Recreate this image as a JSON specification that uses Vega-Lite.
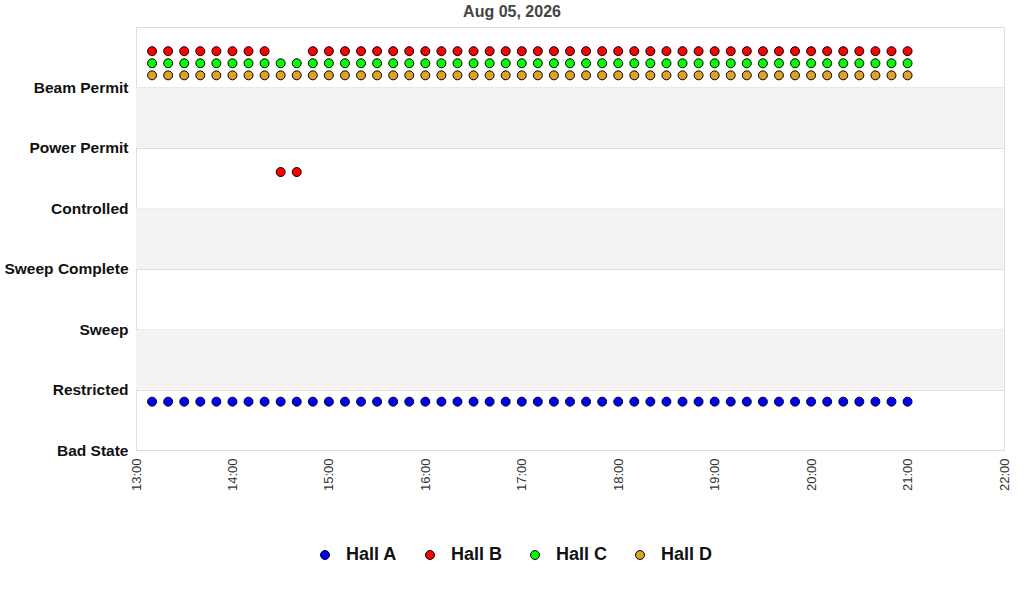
{
  "$schema": "https://vega.github.io/schema/vega-lite/v6.json",
  "width": 868,
  "height": 423,
  "autosize": {"type": "none"},
  "padding": {"left": 136, "top": 27, "right": 20, "bottom": 150},
  "background": "white",
  "config": {
    "font": "Liberation Sans",
    "view": {"stroke": "#dddddd", "strokeWidth": 1}
  },
  "title": {
    "text": "Aug 05, 2026",
    "anchor": "middle",
    "frame": "group",
    "fontSize": 16,
    "fontWeight": "bold",
    "color": "#444444",
    "font": "Liberation Sans",
    "dx": -58,
    "offset": 7
  },
  "datasets": {
    "bands": [
      {"lo": 1, "hi": 2},
      {"lo": 3, "hi": 4},
      {"lo": 5, "hi": 6}
    ],
    "states": [
      {"time": "2026-08-05T13:10:00Z", "hall": "Hall A", "level": 0.8},
      {"time": "2026-08-05T13:20:00Z", "hall": "Hall A", "level": 0.8},
      {"time": "2026-08-05T13:30:00Z", "hall": "Hall A", "level": 0.8},
      {"time": "2026-08-05T13:40:00Z", "hall": "Hall A", "level": 0.8},
      {"time": "2026-08-05T13:50:00Z", "hall": "Hall A", "level": 0.8},
      {"time": "2026-08-05T14:00:00Z", "hall": "Hall A", "level": 0.8},
      {"time": "2026-08-05T14:10:00Z", "hall": "Hall A", "level": 0.8},
      {"time": "2026-08-05T14:20:00Z", "hall": "Hall A", "level": 0.8},
      {"time": "2026-08-05T14:30:00Z", "hall": "Hall A", "level": 0.8},
      {"time": "2026-08-05T14:40:00Z", "hall": "Hall A", "level": 0.8},
      {"time": "2026-08-05T14:50:00Z", "hall": "Hall A", "level": 0.8},
      {"time": "2026-08-05T15:00:00Z", "hall": "Hall A", "level": 0.8},
      {"time": "2026-08-05T15:10:00Z", "hall": "Hall A", "level": 0.8},
      {"time": "2026-08-05T15:20:00Z", "hall": "Hall A", "level": 0.8},
      {"time": "2026-08-05T15:30:00Z", "hall": "Hall A", "level": 0.8},
      {"time": "2026-08-05T15:40:00Z", "hall": "Hall A", "level": 0.8},
      {"time": "2026-08-05T15:50:00Z", "hall": "Hall A", "level": 0.8},
      {"time": "2026-08-05T16:00:00Z", "hall": "Hall A", "level": 0.8},
      {"time": "2026-08-05T16:10:00Z", "hall": "Hall A", "level": 0.8},
      {"time": "2026-08-05T16:20:00Z", "hall": "Hall A", "level": 0.8},
      {"time": "2026-08-05T16:30:00Z", "hall": "Hall A", "level": 0.8},
      {"time": "2026-08-05T16:40:00Z", "hall": "Hall A", "level": 0.8},
      {"time": "2026-08-05T16:50:00Z", "hall": "Hall A", "level": 0.8},
      {"time": "2026-08-05T17:00:00Z", "hall": "Hall A", "level": 0.8},
      {"time": "2026-08-05T17:10:00Z", "hall": "Hall A", "level": 0.8},
      {"time": "2026-08-05T17:20:00Z", "hall": "Hall A", "level": 0.8},
      {"time": "2026-08-05T17:30:00Z", "hall": "Hall A", "level": 0.8},
      {"time": "2026-08-05T17:40:00Z", "hall": "Hall A", "level": 0.8},
      {"time": "2026-08-05T17:50:00Z", "hall": "Hall A", "level": 0.8},
      {"time": "2026-08-05T18:00:00Z", "hall": "Hall A", "level": 0.8},
      {"time": "2026-08-05T18:10:00Z", "hall": "Hall A", "level": 0.8},
      {"time": "2026-08-05T18:20:00Z", "hall": "Hall A", "level": 0.8},
      {"time": "2026-08-05T18:30:00Z", "hall": "Hall A", "level": 0.8},
      {"time": "2026-08-05T18:40:00Z", "hall": "Hall A", "level": 0.8},
      {"time": "2026-08-05T18:50:00Z", "hall": "Hall A", "level": 0.8},
      {"time": "2026-08-05T19:00:00Z", "hall": "Hall A", "level": 0.8},
      {"time": "2026-08-05T19:10:00Z", "hall": "Hall A", "level": 0.8},
      {"time": "2026-08-05T19:20:00Z", "hall": "Hall A", "level": 0.8},
      {"time": "2026-08-05T19:30:00Z", "hall": "Hall A", "level": 0.8},
      {"time": "2026-08-05T19:40:00Z", "hall": "Hall A", "level": 0.8},
      {"time": "2026-08-05T19:50:00Z", "hall": "Hall A", "level": 0.8},
      {"time": "2026-08-05T20:00:00Z", "hall": "Hall A", "level": 0.8},
      {"time": "2026-08-05T20:10:00Z", "hall": "Hall A", "level": 0.8},
      {"time": "2026-08-05T20:20:00Z", "hall": "Hall A", "level": 0.8},
      {"time": "2026-08-05T20:30:00Z", "hall": "Hall A", "level": 0.8},
      {"time": "2026-08-05T20:40:00Z", "hall": "Hall A", "level": 0.8},
      {"time": "2026-08-05T20:50:00Z", "hall": "Hall A", "level": 0.8},
      {"time": "2026-08-05T21:00:00Z", "hall": "Hall A", "level": 0.8},
      {"time": "2026-08-05T13:10:00Z", "hall": "Hall B", "level": 6.6},
      {"time": "2026-08-05T13:20:00Z", "hall": "Hall B", "level": 6.6},
      {"time": "2026-08-05T13:30:00Z", "hall": "Hall B", "level": 6.6},
      {"time": "2026-08-05T13:40:00Z", "hall": "Hall B", "level": 6.6},
      {"time": "2026-08-05T13:50:00Z", "hall": "Hall B", "level": 6.6},
      {"time": "2026-08-05T14:00:00Z", "hall": "Hall B", "level": 6.6},
      {"time": "2026-08-05T14:10:00Z", "hall": "Hall B", "level": 6.6},
      {"time": "2026-08-05T14:20:00Z", "hall": "Hall B", "level": 6.6},
      {"time": "2026-08-05T14:30:00Z", "hall": "Hall B", "level": 4.6},
      {"time": "2026-08-05T14:40:00Z", "hall": "Hall B", "level": 4.6},
      {"time": "2026-08-05T14:50:00Z", "hall": "Hall B", "level": 6.6},
      {"time": "2026-08-05T15:00:00Z", "hall": "Hall B", "level": 6.6},
      {"time": "2026-08-05T15:10:00Z", "hall": "Hall B", "level": 6.6},
      {"time": "2026-08-05T15:20:00Z", "hall": "Hall B", "level": 6.6},
      {"time": "2026-08-05T15:30:00Z", "hall": "Hall B", "level": 6.6},
      {"time": "2026-08-05T15:40:00Z", "hall": "Hall B", "level": 6.6},
      {"time": "2026-08-05T15:50:00Z", "hall": "Hall B", "level": 6.6},
      {"time": "2026-08-05T16:00:00Z", "hall": "Hall B", "level": 6.6},
      {"time": "2026-08-05T16:10:00Z", "hall": "Hall B", "level": 6.6},
      {"time": "2026-08-05T16:20:00Z", "hall": "Hall B", "level": 6.6},
      {"time": "2026-08-05T16:30:00Z", "hall": "Hall B", "level": 6.6},
      {"time": "2026-08-05T16:40:00Z", "hall": "Hall B", "level": 6.6},
      {"time": "2026-08-05T16:50:00Z", "hall": "Hall B", "level": 6.6},
      {"time": "2026-08-05T17:00:00Z", "hall": "Hall B", "level": 6.6},
      {"time": "2026-08-05T17:10:00Z", "hall": "Hall B", "level": 6.6},
      {"time": "2026-08-05T17:20:00Z", "hall": "Hall B", "level": 6.6},
      {"time": "2026-08-05T17:30:00Z", "hall": "Hall B", "level": 6.6},
      {"time": "2026-08-05T17:40:00Z", "hall": "Hall B", "level": 6.6},
      {"time": "2026-08-05T17:50:00Z", "hall": "Hall B", "level": 6.6},
      {"time": "2026-08-05T18:00:00Z", "hall": "Hall B", "level": 6.6},
      {"time": "2026-08-05T18:10:00Z", "hall": "Hall B", "level": 6.6},
      {"time": "2026-08-05T18:20:00Z", "hall": "Hall B", "level": 6.6},
      {"time": "2026-08-05T18:30:00Z", "hall": "Hall B", "level": 6.6},
      {"time": "2026-08-05T18:40:00Z", "hall": "Hall B", "level": 6.6},
      {"time": "2026-08-05T18:50:00Z", "hall": "Hall B", "level": 6.6},
      {"time": "2026-08-05T19:00:00Z", "hall": "Hall B", "level": 6.6},
      {"time": "2026-08-05T19:10:00Z", "hall": "Hall B", "level": 6.6},
      {"time": "2026-08-05T19:20:00Z", "hall": "Hall B", "level": 6.6},
      {"time": "2026-08-05T19:30:00Z", "hall": "Hall B", "level": 6.6},
      {"time": "2026-08-05T19:40:00Z", "hall": "Hall B", "level": 6.6},
      {"time": "2026-08-05T19:50:00Z", "hall": "Hall B", "level": 6.6},
      {"time": "2026-08-05T20:00:00Z", "hall": "Hall B", "level": 6.6},
      {"time": "2026-08-05T20:10:00Z", "hall": "Hall B", "level": 6.6},
      {"time": "2026-08-05T20:20:00Z", "hall": "Hall B", "level": 6.6},
      {"time": "2026-08-05T20:30:00Z", "hall": "Hall B", "level": 6.6},
      {"time": "2026-08-05T20:40:00Z", "hall": "Hall B", "level": 6.6},
      {"time": "2026-08-05T20:50:00Z", "hall": "Hall B", "level": 6.6},
      {"time": "2026-08-05T21:00:00Z", "hall": "Hall B", "level": 6.6},
      {"time": "2026-08-05T13:10:00Z", "hall": "Hall C", "level": 6.4},
      {"time": "2026-08-05T13:20:00Z", "hall": "Hall C", "level": 6.4},
      {"time": "2026-08-05T13:30:00Z", "hall": "Hall C", "level": 6.4},
      {"time": "2026-08-05T13:40:00Z", "hall": "Hall C", "level": 6.4},
      {"time": "2026-08-05T13:50:00Z", "hall": "Hall C", "level": 6.4},
      {"time": "2026-08-05T14:00:00Z", "hall": "Hall C", "level": 6.4},
      {"time": "2026-08-05T14:10:00Z", "hall": "Hall C", "level": 6.4},
      {"time": "2026-08-05T14:20:00Z", "hall": "Hall C", "level": 6.4},
      {"time": "2026-08-05T14:30:00Z", "hall": "Hall C", "level": 6.4},
      {"time": "2026-08-05T14:40:00Z", "hall": "Hall C", "level": 6.4},
      {"time": "2026-08-05T14:50:00Z", "hall": "Hall C", "level": 6.4},
      {"time": "2026-08-05T15:00:00Z", "hall": "Hall C", "level": 6.4},
      {"time": "2026-08-05T15:10:00Z", "hall": "Hall C", "level": 6.4},
      {"time": "2026-08-05T15:20:00Z", "hall": "Hall C", "level": 6.4},
      {"time": "2026-08-05T15:30:00Z", "hall": "Hall C", "level": 6.4},
      {"time": "2026-08-05T15:40:00Z", "hall": "Hall C", "level": 6.4},
      {"time": "2026-08-05T15:50:00Z", "hall": "Hall C", "level": 6.4},
      {"time": "2026-08-05T16:00:00Z", "hall": "Hall C", "level": 6.4},
      {"time": "2026-08-05T16:10:00Z", "hall": "Hall C", "level": 6.4},
      {"time": "2026-08-05T16:20:00Z", "hall": "Hall C", "level": 6.4},
      {"time": "2026-08-05T16:30:00Z", "hall": "Hall C", "level": 6.4},
      {"time": "2026-08-05T16:40:00Z", "hall": "Hall C", "level": 6.4},
      {"time": "2026-08-05T16:50:00Z", "hall": "Hall C", "level": 6.4},
      {"time": "2026-08-05T17:00:00Z", "hall": "Hall C", "level": 6.4},
      {"time": "2026-08-05T17:10:00Z", "hall": "Hall C", "level": 6.4},
      {"time": "2026-08-05T17:20:00Z", "hall": "Hall C", "level": 6.4},
      {"time": "2026-08-05T17:30:00Z", "hall": "Hall C", "level": 6.4},
      {"time": "2026-08-05T17:40:00Z", "hall": "Hall C", "level": 6.4},
      {"time": "2026-08-05T17:50:00Z", "hall": "Hall C", "level": 6.4},
      {"time": "2026-08-05T18:00:00Z", "hall": "Hall C", "level": 6.4},
      {"time": "2026-08-05T18:10:00Z", "hall": "Hall C", "level": 6.4},
      {"time": "2026-08-05T18:20:00Z", "hall": "Hall C", "level": 6.4},
      {"time": "2026-08-05T18:30:00Z", "hall": "Hall C", "level": 6.4},
      {"time": "2026-08-05T18:40:00Z", "hall": "Hall C", "level": 6.4},
      {"time": "2026-08-05T18:50:00Z", "hall": "Hall C", "level": 6.4},
      {"time": "2026-08-05T19:00:00Z", "hall": "Hall C", "level": 6.4},
      {"time": "2026-08-05T19:10:00Z", "hall": "Hall C", "level": 6.4},
      {"time": "2026-08-05T19:20:00Z", "hall": "Hall C", "level": 6.4},
      {"time": "2026-08-05T19:30:00Z", "hall": "Hall C", "level": 6.4},
      {"time": "2026-08-05T19:40:00Z", "hall": "Hall C", "level": 6.4},
      {"time": "2026-08-05T19:50:00Z", "hall": "Hall C", "level": 6.4},
      {"time": "2026-08-05T20:00:00Z", "hall": "Hall C", "level": 6.4},
      {"time": "2026-08-05T20:10:00Z", "hall": "Hall C", "level": 6.4},
      {"time": "2026-08-05T20:20:00Z", "hall": "Hall C", "level": 6.4},
      {"time": "2026-08-05T20:30:00Z", "hall": "Hall C", "level": 6.4},
      {"time": "2026-08-05T20:40:00Z", "hall": "Hall C", "level": 6.4},
      {"time": "2026-08-05T20:50:00Z", "hall": "Hall C", "level": 6.4},
      {"time": "2026-08-05T21:00:00Z", "hall": "Hall C", "level": 6.4},
      {"time": "2026-08-05T13:10:00Z", "hall": "Hall D", "level": 6.2},
      {"time": "2026-08-05T13:20:00Z", "hall": "Hall D", "level": 6.2},
      {"time": "2026-08-05T13:30:00Z", "hall": "Hall D", "level": 6.2},
      {"time": "2026-08-05T13:40:00Z", "hall": "Hall D", "level": 6.2},
      {"time": "2026-08-05T13:50:00Z", "hall": "Hall D", "level": 6.2},
      {"time": "2026-08-05T14:00:00Z", "hall": "Hall D", "level": 6.2},
      {"time": "2026-08-05T14:10:00Z", "hall": "Hall D", "level": 6.2},
      {"time": "2026-08-05T14:20:00Z", "hall": "Hall D", "level": 6.2},
      {"time": "2026-08-05T14:30:00Z", "hall": "Hall D", "level": 6.2},
      {"time": "2026-08-05T14:40:00Z", "hall": "Hall D", "level": 6.2},
      {"time": "2026-08-05T14:50:00Z", "hall": "Hall D", "level": 6.2},
      {"time": "2026-08-05T15:00:00Z", "hall": "Hall D", "level": 6.2},
      {"time": "2026-08-05T15:10:00Z", "hall": "Hall D", "level": 6.2},
      {"time": "2026-08-05T15:20:00Z", "hall": "Hall D", "level": 6.2},
      {"time": "2026-08-05T15:30:00Z", "hall": "Hall D", "level": 6.2},
      {"time": "2026-08-05T15:40:00Z", "hall": "Hall D", "level": 6.2},
      {"time": "2026-08-05T15:50:00Z", "hall": "Hall D", "level": 6.2},
      {"time": "2026-08-05T16:00:00Z", "hall": "Hall D", "level": 6.2},
      {"time": "2026-08-05T16:10:00Z", "hall": "Hall D", "level": 6.2},
      {"time": "2026-08-05T16:20:00Z", "hall": "Hall D", "level": 6.2},
      {"time": "2026-08-05T16:30:00Z", "hall": "Hall D", "level": 6.2},
      {"time": "2026-08-05T16:40:00Z", "hall": "Hall D", "level": 6.2},
      {"time": "2026-08-05T16:50:00Z", "hall": "Hall D", "level": 6.2},
      {"time": "2026-08-05T17:00:00Z", "hall": "Hall D", "level": 6.2},
      {"time": "2026-08-05T17:10:00Z", "hall": "Hall D", "level": 6.2},
      {"time": "2026-08-05T17:20:00Z", "hall": "Hall D", "level": 6.2},
      {"time": "2026-08-05T17:30:00Z", "hall": "Hall D", "level": 6.2},
      {"time": "2026-08-05T17:40:00Z", "hall": "Hall D", "level": 6.2},
      {"time": "2026-08-05T17:50:00Z", "hall": "Hall D", "level": 6.2},
      {"time": "2026-08-05T18:00:00Z", "hall": "Hall D", "level": 6.2},
      {"time": "2026-08-05T18:10:00Z", "hall": "Hall D", "level": 6.2},
      {"time": "2026-08-05T18:20:00Z", "hall": "Hall D", "level": 6.2},
      {"time": "2026-08-05T18:30:00Z", "hall": "Hall D", "level": 6.2},
      {"time": "2026-08-05T18:40:00Z", "hall": "Hall D", "level": 6.2},
      {"time": "2026-08-05T18:50:00Z", "hall": "Hall D", "level": 6.2},
      {"time": "2026-08-05T19:00:00Z", "hall": "Hall D", "level": 6.2},
      {"time": "2026-08-05T19:10:00Z", "hall": "Hall D", "level": 6.2},
      {"time": "2026-08-05T19:20:00Z", "hall": "Hall D", "level": 6.2},
      {"time": "2026-08-05T19:30:00Z", "hall": "Hall D", "level": 6.2},
      {"time": "2026-08-05T19:40:00Z", "hall": "Hall D", "level": 6.2},
      {"time": "2026-08-05T19:50:00Z", "hall": "Hall D", "level": 6.2},
      {"time": "2026-08-05T20:00:00Z", "hall": "Hall D", "level": 6.2},
      {"time": "2026-08-05T20:10:00Z", "hall": "Hall D", "level": 6.2},
      {"time": "2026-08-05T20:20:00Z", "hall": "Hall D", "level": 6.2},
      {"time": "2026-08-05T20:30:00Z", "hall": "Hall D", "level": 6.2},
      {"time": "2026-08-05T20:40:00Z", "hall": "Hall D", "level": 6.2},
      {"time": "2026-08-05T20:50:00Z", "hall": "Hall D", "level": 6.2},
      {"time": "2026-08-05T21:00:00Z", "hall": "Hall D", "level": 6.2}
    ]
  },
  "layer": [
    {
      "data": {"name": "bands"},
      "mark": {"type": "rect", "color": "#f3f3f3"},
      "encoding": {
        "y": {"field": "lo", "type": "quantitative", "scale": {"domain": [0, 7], "nice": false, "zero": false}},
        "y2": {"field": "hi"}
      }
    },
    {
      "data": {"name": "states"},
      "mark": {"type": "point", "filled": true, "size": 80, "opacity": 1, "stroke": "black", "strokeWidth": 1},
      "encoding": {
        "x": {
          "field": "time",
          "type": "temporal",
          "title": null,
          "scale": {
            "type": "utc",
            "domain": [
              {"year": 2026, "month": 8, "date": 5, "hours": 13, "utc": true},
              {"year": 2026, "month": 8, "date": 5, "hours": 22, "utc": true}
            ]
          },
          "axis": {
            "format": "%H:%M",
            "tickCount": 9,
            "labelAngle": 270,
            "labelFontSize": 13,
            "labelColor": "#333333",
            "labelFont": "Liberation Sans",
            "labelPadding": 8,
            "ticks": false,
            "domain": false,
            "grid": false,
            "labelOverlap": false,
            "labelFlush": false
          }
        },
        "y": {
          "field": "level",
          "type": "quantitative",
          "title": null,
          "scale": {"domain": [0, 7], "nice": false, "zero": false},
          "axis": {
            "values": [0, 1, 2, 3, 4, 5, 6],
            "labelExpr": "['Bad State','Restricted','Sweep','Sweep Complete','Controlled','Power Permit','Beam Permit'][datum.value]",
            "labelFontSize": 15.5,
            "labelFontWeight": "bold",
            "labelColor": "#111111",
            "labelFont": "Liberation Sans",
            "labelPadding": 8,
            "ticks": false,
            "domain": false,
            "grid": true,
            "gridColor": "#dddddd",
            "labelFlush": false,
            "labelOverlap": false
          }
        },
        "color": {
          "field": "hall",
          "type": "nominal",
          "scale": {"domain": ["Hall A", "Hall B", "Hall C", "Hall D"], "range": ["#0000ff", "#ff0000", "#00ff00", "#daa520"]},
          "legend": {
            "title": null,
            "orient": "none",
            "direction": "horizontal",
            "legendX": 180,
            "legendY": 519,
            "symbolType": "circle",
            "symbolSize": 80,
            "symbolStrokeColor": "black",
            "symbolStrokeWidth": 1,
            "symbolOpacity": 1,
            "labelFontSize": 18,
            "labelFontWeight": "bold",
            "labelColor": "#111111",
            "labelFont": "Liberation Sans",
            "labelOffset": 12,
            "columnPadding": 23
          }
        }
      }
    }
  ]
}
